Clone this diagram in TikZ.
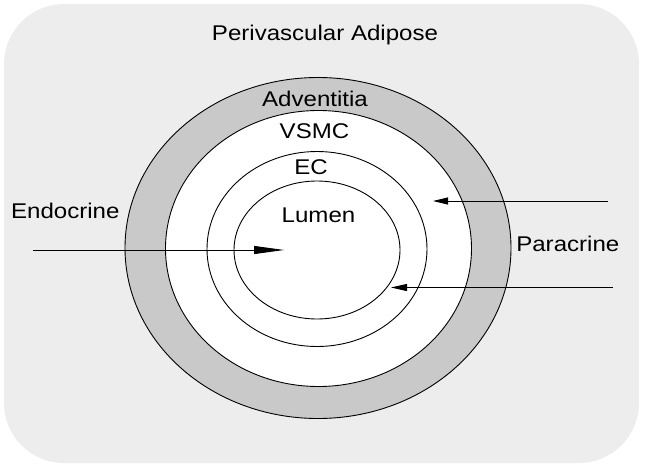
\documentclass[tikz,border=0pt]{standalone}
\usepackage{fontspec}
\setmainfont{Liberation Sans}[FakeStretch=1.13]
\usetikzlibrary{arrows.meta}
\definecolor{bgfill}{HTML}{EDEDED}
\definecolor{advfill}{HTML}{C9C9C9}
\tikzset{
  layer/.style={draw=black, line width=0.9pt},
  lbl/.style={anchor=base, inner sep=0pt, font=\fontsize{21.3}{25}\selectfont},
  sig/.style={draw=black, line width=0.9pt},
}
\begin{document}
\begin{tikzpicture}[x=1pt, y=-1pt]
\useasboundingbox (0,0) rectangle (645,471);
% background
\fill[bgfill, rounded corners=60pt] (4,4) rectangle (639,463);
% layers
\path[layer, fill=advfill] (318,248) ellipse [x radius=193pt, y radius=170.5pt];
\path[layer, fill=white] (318.5,248.5) ellipse [x radius=153pt, y radius=138pt];
\path[layer, fill=white] (317,249) ellipse [x radius=110pt, y radius=97.5pt];
\path[layer, fill=white] (317,250) ellipse [x radius=83pt, y radius=69pt];
% labels
\node[lbl] (adipose) at (325,40.7) {Perivascular Adipose};
\node[lbl] (advent) at (315,106) {Adventitia};
\node[lbl] (vsmc) at (314.5,138) {VSMC};
\node[lbl] (ec) at (311,174) {EC};
\node[lbl] (lumen) at (318.5,222.5) {Lumen};
\node[lbl] (endo) at (65.3,218) {Endocrine};
\node[lbl] (para) at (567.8,251.5) {Paracrine};
% arrows
\coordinate (e1) at (33,250);
\coordinate (e2) at (284,250);
\coordinate (p1) at (608,201);
\coordinate (p2) at (433,201);
\coordinate (q1) at (613,287.5);
\coordinate (q2) at (391,287.5);
\draw[sig, -{Triangle[length=30pt,width=8pt]}] (e1) -- (e2);
\draw[sig, -{Triangle[length=15pt,width=7pt]}] (p1) -- (p2);
\draw[sig, -{Triangle[length=16pt,width=7pt]}] (q1) -- (q2);
\end{tikzpicture}
\end{document}
